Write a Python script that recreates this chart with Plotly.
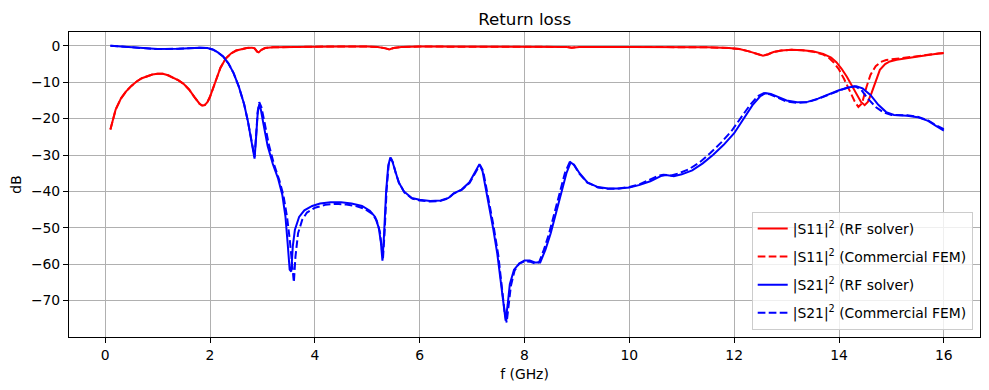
import plotly.graph_objects as go

# ---------------- data ----------------
s11_rf_f = [0.10, 0.15, 0.20, 0.30, 0.40, 0.50, 0.60, 0.70, 0.80, 0.90, 1.00, 1.10, 1.20, 1.30, 1.40,
            1.50, 1.60, 1.70, 1.80, 1.85, 1.90, 1.95, 2.00, 2.10, 2.20, 2.30, 2.40, 2.50, 2.60, 2.70,
            2.80, 2.85, 2.90, 2.93, 2.97, 3.05, 3.20, 3.50, 4.00, 4.50, 5.00, 5.20, 5.35, 5.42, 5.50,
            5.65, 6.00, 7.00, 7.15, 7.30, 8.00, 8.80, 8.90, 9.05, 10.0, 11.0, 11.5, 11.9, 12.1, 12.3,
            12.45, 12.55, 12.65, 12.75, 12.9, 13.1, 13.3, 13.5, 13.7, 13.85, 13.95, 14.05, 14.15, 14.25,
            14.35, 14.42, 14.49, 14.55, 14.62, 14.70, 14.78, 14.88, 14.97, 15.1, 15.3, 15.5, 15.7, 15.9, 16.0]
s11_rf_db = [-23.0, -20.0, -17.5, -14.5, -12.5, -11.0, -9.8, -8.9, -8.3, -7.9, -7.7, -7.7, -8.1, -8.7, -9.5,
             -10.5, -12.0, -14.0, -15.9, -16.4, -16.3, -15.5, -14.0, -10.0, -6.0, -3.5, -2.1, -1.3, -0.9, -0.6,
             -0.5, -0.7, -1.6, -1.8, -1.2, -0.6, -0.4, -0.3, -0.2, -0.15, -0.2, -0.3, -0.7, -1.0, -0.6,
             -0.3, -0.2, -0.2, -0.4, -0.2, -0.2, -0.3, -0.5, -0.3, -0.3, -0.3, -0.4, -0.6, -0.9, -1.6,
             -2.3, -2.7, -2.3, -1.7, -1.3, -1.1, -1.2, -1.5, -2.2, -3.2, -4.5, -6.3, -8.5, -11.0,
             -13.6, -15.4, -16.3, -15.4, -13.0, -9.5, -6.6, -5.0, -4.3, -3.8, -3.3, -2.9, -2.5, -2.1, -2.0]

s11_fem_f = [0.10, 0.15, 0.20, 0.30, 0.40, 0.50, 0.60, 0.70, 0.80, 0.90, 1.00, 1.10, 1.20, 1.30, 1.40,
             1.50, 1.60, 1.70, 1.80, 1.85, 1.90, 1.95, 2.00, 2.10, 2.20, 2.30, 2.40, 2.50, 2.60, 2.70,
             2.80, 2.85, 2.90, 2.93, 2.97, 3.05, 3.20, 3.50, 4.00, 4.50, 5.00, 5.20, 5.35, 5.42, 5.50,
             5.65, 6.00, 7.00, 7.15, 7.30, 8.00, 8.80, 8.90, 9.05, 10.0, 11.0, 11.5, 11.9, 12.1, 12.3,
             12.45, 12.55, 12.65, 12.75, 12.9, 13.1, 13.3, 13.5, 13.7, 13.8, 13.9, 14.0, 14.1, 14.2,
             14.3, 14.37, 14.44, 14.52, 14.60, 14.70, 14.80, 14.90, 15.1, 15.3, 15.5, 15.7, 15.9, 16.0]
s11_fem_db = [-23.0, -20.0, -17.5, -14.5, -12.5, -11.0, -9.8, -8.9, -8.3, -7.9, -7.7, -7.7, -8.1, -8.7, -9.5,
              -10.5, -12.0, -14.0, -15.9, -16.4, -16.3, -15.5, -14.0, -10.0, -6.0, -3.5, -2.1, -1.3, -0.9, -0.6,
              -0.5, -0.7, -1.6, -1.8, -1.2, -0.6, -0.4, -0.3, -0.2, -0.15, -0.2, -0.3, -0.7, -1.0, -0.6,
              -0.3, -0.2, -0.2, -0.4, -0.2, -0.2, -0.3, -0.5, -0.3, -0.3, -0.3, -0.4, -0.6, -0.9, -1.6,
              -2.3, -2.7, -2.3, -1.7, -1.3, -1.1, -1.2, -1.6, -2.4, -3.2, -4.6, -6.5, -9.2, -12.3,
              -15.3, -16.8, -15.8, -11.5, -8.0, -5.6, -4.4, -3.9, -3.5, -3.2, -2.9, -2.5, -2.1, -2.0]

s21_rf_f = [0.10, 0.30, 0.60, 1.00, 1.40, 1.80, 1.95, 2.05, 2.15, 2.25, 2.35, 2.45, 2.55, 2.65, 2.72,
            2.78, 2.82, 2.85, 2.88, 2.91, 2.94, 2.97, 3.02, 3.10, 3.20, 3.30, 3.38, 3.44, 3.48, 3.52,
            3.55, 3.58, 3.62, 3.70, 3.80, 3.95, 4.10, 4.30, 4.50, 4.70, 4.90, 5.05, 5.15, 5.22, 5.26,
            5.29, 5.32, 5.36, 5.40, 5.44, 5.48, 5.53, 5.60, 5.70, 5.85, 6.00, 6.20, 6.40, 6.55, 6.65,
            6.80, 6.95, 7.05, 7.14, 7.20, 7.30, 7.40, 7.48, 7.55, 7.60, 7.64, 7.68, 7.72, 7.80, 7.90,
            8.00, 8.10, 8.20, 8.30, 8.40, 8.50, 8.60, 8.70, 8.80, 8.88, 8.95, 9.05, 9.20, 9.40, 9.60,
            9.80, 10.0, 10.2, 10.4, 10.6, 10.7, 10.85, 11.0, 11.2, 11.4, 11.6, 11.8, 12.0, 12.2, 12.35,
            12.5, 12.6, 12.7, 12.85, 13.0, 13.2, 13.4, 13.6, 13.8, 14.0, 14.2, 14.33, 14.45, 14.6, 14.75,
            14.9, 15.05, 15.3, 15.5, 15.7, 15.85, 16.0]
s21_rf_db = [0.0, -0.2, -0.6, -0.9, -0.8, -0.5, -0.6, -1.0, -1.8, -2.9, -4.8, -7.5, -11.2, -16.0, -20.5,
             -25.0, -29.0, -31.0, -25.0, -18.5, -16.0, -17.5, -21.5, -27.5, -32.5, -36.5, -41.0, -47.0, -54.0, -61.5,
             -62.0, -55.0, -50.5, -47.0, -45.2, -44.0, -43.3, -43.0, -43.0, -43.3, -44.0, -45.3, -47.0, -50.0, -54.0,
             -59.0, -52.0, -40.0, -33.0, -30.7, -31.8, -34.5, -37.5, -40.0, -41.8, -42.3, -42.6, -42.5, -41.8, -40.5,
             -39.5, -37.5, -35.0, -32.5, -34.5, -42.0, -50.0, -57.0, -65.0, -72.0, -75.5, -71.0, -65.5, -61.5, -59.8,
             -59.0, -59.0, -59.5, -59.5, -56.0, -51.5, -46.0, -40.5, -35.0, -32.0, -32.8, -35.0, -37.5, -38.8, -39.2,
             -39.2, -38.9, -38.2, -37.2, -35.8, -35.5, -35.8, -35.3, -34.2, -32.3, -29.9, -27.2, -24.0, -19.8, -16.3,
             -13.8, -13.0, -13.2, -14.2, -15.0, -15.5, -15.4, -14.5, -13.3, -12.2, -11.4, -11.1, -11.7, -13.5, -16.2,
             -18.2, -19.0, -19.2, -19.6, -20.6, -22.0, -23.3]

s21_fem_f = [0.10, 0.30, 0.60, 1.00, 1.40, 1.80, 1.95, 2.05, 2.15, 2.25, 2.35, 2.45, 2.55, 2.65, 2.72,
             2.78, 2.82, 2.85, 2.88, 2.91, 2.94, 2.98, 3.04, 3.12, 3.22, 3.32, 3.40, 3.47, 3.52, 3.56,
             3.60, 3.63, 3.68, 3.76, 3.85, 4.00, 4.20, 4.40, 4.60, 4.80, 4.95, 5.10, 5.18, 5.24, 5.27,
             5.30, 5.33, 5.37, 5.41, 5.45, 5.49, 5.54, 5.61, 5.71, 5.86, 6.00, 6.20, 6.40, 6.55, 6.65,
             6.80, 6.95, 7.05, 7.15, 7.21, 7.31, 7.41, 7.50, 7.57, 7.62, 7.66, 7.70, 7.74, 7.81, 7.90,
             8.00, 8.10, 8.20, 8.28, 8.37, 8.47, 8.57, 8.67, 8.77, 8.86, 8.94, 9.04, 9.20, 9.40, 9.60,
             9.80, 10.0, 10.2, 10.4, 10.55, 10.65, 10.8, 10.95, 11.15, 11.35, 11.55, 11.75, 11.95, 12.15, 12.3,
             12.45, 12.57, 12.68, 12.85, 13.0, 13.2, 13.4, 13.6, 13.8, 14.0, 14.2, 14.3, 14.42, 14.55, 14.7,
             14.85, 15.0, 15.3, 15.5, 15.7, 15.85, 16.0]
s21_fem_db = [0.0, -0.2, -0.6, -0.9, -0.8, -0.5, -0.6, -1.0, -1.8, -2.9, -4.8, -7.5, -11.2, -16.0, -20.5,
              -25.0, -29.0, -30.5, -24.5, -18.0, -15.5, -16.8, -21.0, -27.0, -32.5, -36.8, -41.0, -47.0, -53.0, -59.0,
              -65.0, -58.0, -51.5, -47.8, -45.8, -44.5, -43.7, -43.4, -43.6, -44.1, -44.8, -46.2, -48.0, -51.0, -54.5,
              -58.5, -51.5, -39.5, -32.5, -30.8, -32.0, -34.8, -37.8, -40.3, -42.0, -42.5, -42.8, -42.6, -41.9, -40.6,
              -39.6, -37.7, -35.2, -32.7, -34.3, -41.5, -49.5, -57.5, -66.0, -73.0, -76.0, -71.5, -66.0, -61.8, -59.8,
              -59.2, -59.3, -59.8, -59.4, -56.0, -51.5, -46.0, -40.5, -35.0, -32.0, -32.6, -35.0, -37.6, -38.9, -39.3,
              -39.2, -38.8, -38.0, -36.8, -35.7, -35.4, -35.6, -35.0, -33.8, -31.9, -29.4, -26.6, -23.4, -19.3, -16.3,
              -13.8, -13.0, -13.3, -14.4, -15.3, -15.7, -15.5, -14.6, -13.4, -12.3, -11.3, -11.1, -12.0, -14.5, -16.8,
              -18.3, -19.0, -19.1, -19.5, -20.5, -21.8, -22.9]

series = [
    ("|S11|<sup>2</sup> (RF solver)", s11_rf_f, s11_rf_db, "red", "solid"),
    ("|S11|<sup>2</sup> (Commercial FEM)", s11_fem_f, s11_fem_db, "red", "7.7px,3.3px"),
    ("|S21|<sup>2</sup> (RF solver)", s21_rf_f, s21_rf_db, "blue", "solid"),
    ("|S21|<sup>2</sup> (Commercial FEM)", s21_fem_f, s21_fem_db, "blue", "7.7px,3.3px"),
]

x_ticks = [0, 2, 4, 6, 8, 10, 12, 14, 16]
y_ticks = [0, -10, -20, -30, -40, -50, -60, -70]

fig = go.Figure()
for i, (name, fx, fy, col, dash) in enumerate(series):
    fig.add_trace(go.Scatter(x=fx, y=fy, mode="lines", name=name, legendgroup=str(i),
                             line=dict(color=col, width=2, dash=dash)))

FONT = "DejaVu Sans"
axis_common = dict(showline=True, mirror=True, linecolor="black", linewidth=1,
                   ticks="outside", ticklen=5, tickwidth=1, tickcolor="black",
                   showgrid=True, gridcolor="#b0b0b0", gridwidth=1, zeroline=False,
                   automargin=False,
                   tickfont=dict(family=FONT, size=13.9, color="black"))

fig.update_layout(
    width=989, height=390,
    margin=dict(l=69, r=9, t=32, b=53, autoexpand=False),
    paper_bgcolor="white", plot_bgcolor="white",
    font=dict(family=FONT, size=13.9, color="black"),
    title=dict(text="Return loss", x=0.5305, xanchor="center", y=0.952, yanchor="middle",
               automargin=False,
               font=dict(family=FONT, size=16.7, color="black")),
    xaxis=dict(range=[-0.69, 16.69], tickvals=x_ticks,
               title=dict(text="f (GHz)", standoff=7, font=dict(family=FONT, size=13.9)),
               **axis_common),
    yaxis=dict(range=[-80, 3.8], tickvals=y_ticks,
               title=dict(text="dB", standoff=6, font=dict(family=FONT, size=13.9)),
               **axis_common),
    legend=dict(x=0.992, xanchor="right", y=0.023, yanchor="bottom",
                bgcolor="rgba(255,255,255,0.8)", bordercolor="#cccccc", borderwidth=1,
                tracegroupgap=7, font=dict(family=FONT, size=13.9, color="black")),
    showlegend=True,
)

fig.write_html("out.html", config={"displayModeBar": False},
               post_script="document.body.style.margin='0';document.body.style.padding='0';")
